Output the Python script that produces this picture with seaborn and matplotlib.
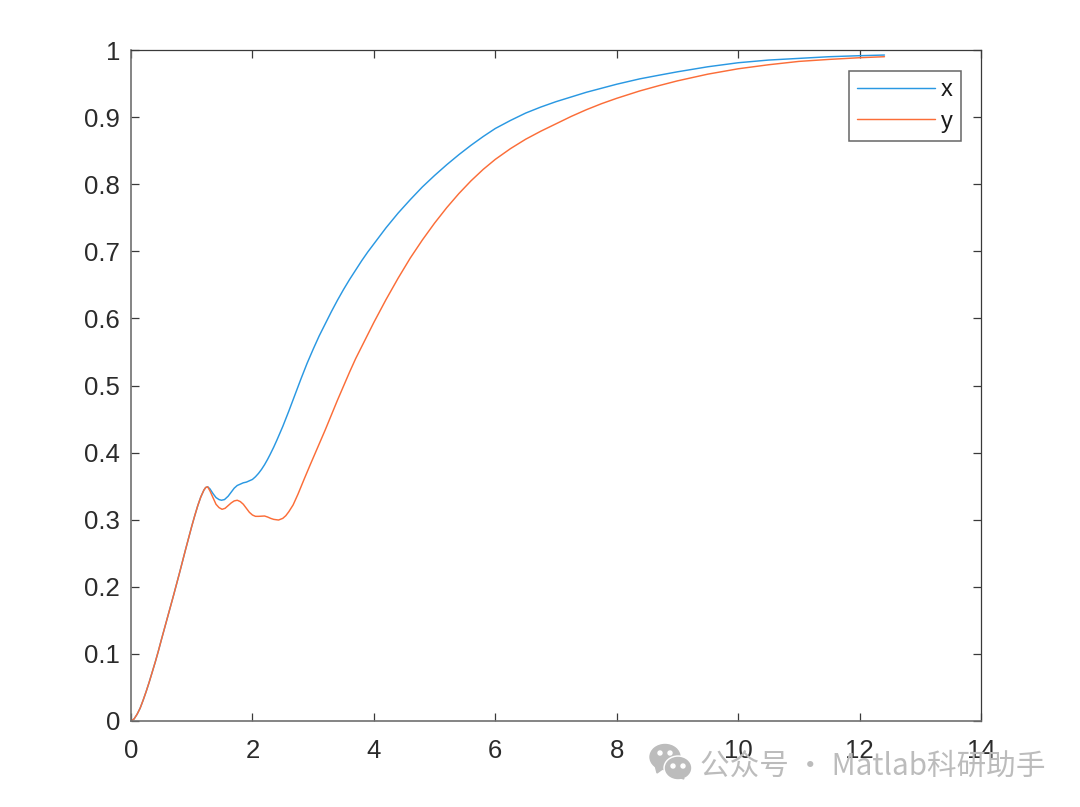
#!/usr/bin/env python3
# -*- coding: utf-8 -*-

import matplotlib
matplotlib.use('Agg')
import matplotlib.pyplot as plt
import seaborn as sns
from matplotlib.patches import Ellipse, Polygon

# values
rise_t = [0, 0.05, 0.1, 0.15, 0.2, 0.25, 0.3, 0.35, 0.4, 0.45, 0.5, 0.6, 0.7, 0.8, 0.9, 1.0,
          1.05, 1.1, 1.15, 1.2, 1.23, 1.263]
rise_val = [0, 0.003, 0.010, 0.019, 0.031, 0.044, 0.058, 0.073, 0.088, 0.104, 0.121, 0.154, 0.187, 0.221, 0.256, 0.290,
            0.306, 0.321, 0.334, 0.344, 0.348, 0.349]

x_t = rise_t + [1.3, 1.35, 1.4, 1.45, 1.49, 1.54, 1.6, 1.65, 1.7, 1.75, 1.8, 1.85, 1.9, 1.95, 2.0,
                2.05, 2.1, 2.15, 2.2, 2.25, 2.29, 2.35, 2.4, 2.5, 2.6, 2.7, 2.8, 2.9, 3.0, 3.1,
                3.2, 3.3, 3.4, 3.5, 3.6, 3.7, 3.8, 3.9, 4.0, 4.2, 4.4, 4.6, 4.8, 5.0, 5.2,
                5.4, 5.6, 5.8, 6.0, 6.25, 6.5, 6.75, 7.0, 7.25, 7.5, 7.75, 8.0, 8.38, 8.7, 9.0,
                9.5, 10.0, 10.5, 11.0, 11.5, 12.0, 12.41]
x_val = rise_val + [0.346, 0.339, 0.333, 0.330, 0.329, 0.330, 0.335, 0.341, 0.347, 0.351, 0.353, 0.355, 0.356, 0.358, 0.360,
                    0.364, 0.369, 0.375, 0.382, 0.390, 0.397, 0.408, 0.418, 0.439, 0.462, 0.486, 0.510, 0.533, 0.554, 0.574,
                    0.592, 0.610, 0.627, 0.643, 0.658, 0.672, 0.686, 0.699, 0.711, 0.735, 0.757, 0.777, 0.796, 0.813, 0.829,
                    0.844, 0.858, 0.871, 0.883, 0.895, 0.906, 0.915, 0.923, 0.930, 0.937, 0.943, 0.949, 0.957, 0.9625, 0.9675,
                    0.975, 0.981, 0.985, 0.9875, 0.99, 0.9915, 0.9925]

y_t = rise_t + [1.3, 1.35, 1.4, 1.45, 1.5, 1.55, 1.6, 1.65, 1.7, 1.75, 1.8, 1.85, 1.9, 1.95, 2.0,
                2.05, 2.1, 2.2, 2.25, 2.3, 2.35, 2.43, 2.5, 2.55, 2.6, 2.67, 2.75, 2.85, 2.95, 3.0,
                3.1, 3.2, 3.3, 3.4, 3.5, 3.6, 3.7, 3.8, 3.9, 4.0, 4.2, 4.4, 4.6, 4.8, 5.0,
                5.2, 5.4, 5.6, 5.8, 6.0, 6.25, 6.5, 6.75, 7.0, 7.25, 7.5, 7.75, 8.0, 8.38, 8.7,
                9.0, 9.5, 10.0, 10.5, 11.0, 11.5, 12.0, 12.41]
y_val = rise_val + [0.343, 0.333, 0.323, 0.318, 0.3155, 0.317, 0.321, 0.325, 0.328, 0.329, 0.327, 0.323, 0.317, 0.311, 0.307,
                    0.305, 0.305, 0.3055, 0.304, 0.302, 0.3005, 0.2995, 0.302, 0.306, 0.312, 0.322, 0.338, 0.360, 0.3815, 0.392,
                    0.413, 0.434, 0.456, 0.478, 0.499, 0.520, 0.540, 0.558, 0.576, 0.594, 0.628, 0.660, 0.690, 0.717, 0.742,
                    0.765, 0.786, 0.805, 0.822, 0.837, 0.853, 0.867, 0.879, 0.890, 0.901, 0.911, 0.920, 0.928, 0.939, 0.947,
                    0.954, 0.964, 0.972, 0.978, 0.983, 0.986, 0.9885, 0.990]

x_ticks = [0, 2, 4, 6, 8, 10, 12, 14]
y_ticks = [0, 0.1, 0.2, 0.3, 0.4, 0.5, 0.6, 0.7, 0.8, 0.9, 1]
y_tick_labels = ['0', '0.1', '0.2', '0.3', '0.4', '0.5', '0.6', '0.7', '0.8', '0.9', '1']

sns.set_style('ticks')
plt.rcParams['font.family'] = ['Liberation Sans', 'DejaVu Sans']

W, H = 1080, 807
fig = plt.figure(figsize=(W / 100, H / 100), dpi=100)
ax = fig.add_axes([131 / W, 1 - 721 / H, 850 / W, 671 / H])

sns.lineplot(x=x_t, y=x_val, color='#2a98e2', lw=1.05, sort=False, estimator=None, label='x', ax=ax)
sns.lineplot(x=y_t, y=y_val, color='#fb6d38', lw=1.05, sort=False, estimator=None, label='y', ax=ax)

ax.set_xlim(0, 14)
ax.set_ylim(0, 1)
ax.set_xticks(x_ticks)
ax.set_yticks(y_ticks)
ax.set_yticklabels(y_tick_labels)
ax.tick_params(direction='in', length=6, width=0.9, color='#3a3a3a', labelsize=18.5,
               labelcolor='#2b2b2b', top=True, right=True)
ax.tick_params(axis='x', pad=13)
ax.tick_params(axis='y', pad=8)
for side in ax.spines:
    ax.spines[side].set_color('#3a3a3a')
    ax.spines[side].set_linewidth(0.9)
for side in ['left', 'bottom']:
    ax.spines[side].set_color('#707070')
    ax.spines[side].set_linewidth(1.2)

leg = ax.legend(loc='upper left', bbox_to_anchor=(718 / 850, 1 - 20.5 / 671), fontsize=17,
                fancybox=False, framealpha=1, edgecolor='#666666', borderaxespad=0,
                handlelength=3.3, handletextpad=0.22, labelspacing=0.415, borderpad=0.356)
leg.get_frame().set_linewidth(1.1)
for t in leg.get_texts():
    t.set_color('#1a1a1a')

# watermark
gray = '#bcbcbc'
def fx(p):
    return p / W
def fy(p):
    return 1 - p / H
fig.add_artist(Ellipse((fx(665), fy(757)), 30 / W, 25 / H, color=gray, transform=fig.transFigure))
fig.add_artist(Polygon([(fx(655), fy(765)), (fx(657), fy(773)), (fx(664), fy(768))], color=gray, transform=fig.transFigure))
fig.add_artist(Ellipse((fx(678), fy(768)), 28 / W, 24 / H, color='white', transform=fig.transFigure))
fig.add_artist(Ellipse((fx(678), fy(768)), 25 / W, 21 / H, color=gray, transform=fig.transFigure))
fig.add_artist(Polygon([(fx(682), fy(775)), (fx(684), fy(779)), (fx(677), fy(777))], color=gray, transform=fig.transFigure))
for ex, ey in [(660, 753), (670, 753), (673, 766), (683, 766)]:
    fig.add_artist(Ellipse((fx(ex), fy(ey)), 4 / W, 4 / H, color='white', transform=fig.transFigure))
fig.text(fx(700), fy(766), '公众号 · Matlab科研助手', color=gray, fontsize=21.3, va='center', ha='left',
         family=['Noto Sans CJK SC', 'DejaVu Sans'])

fig.savefig('out.png', dpi=100)
